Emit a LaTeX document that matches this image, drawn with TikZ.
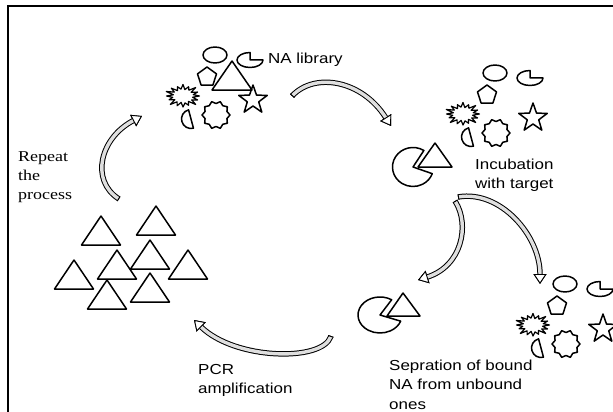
\documentclass[tikz,border=0pt]{standalone}
\usepackage{fontspec}
\usetikzlibrary{arrows.meta}
\newfontfamily\labelsans[FakeStretch=1.17]{Liberation Sans}
\newfontfamily\labelserif[FakeStretch=1.2]{Liberation Serif}
\tikzset{
outl/.style={draw=black, line width=1.5pt, line join=round},
ribbon/.style={
  draw=gray!25, line width=3.4pt,
  preaction={draw=black, line width=5.4pt},
  {Bar[width=5.4pt, line width=0.9pt, color=black]}-{Triangle[length=10pt, width=13pt, line width=0.9pt, color=black, fill=white]}
},
lbl/.style={font=\labelsans\fontsize{14.5}{19.3}\selectfont, align=left, inner sep=0pt, anchor=north west},
lblserif/.style={font=\labelserif\fontsize{15}{18.7}\selectfont, align=left, inner sep=0pt, anchor=north west},
pics/tri/.style={code={\draw[outl] (0,0) -- (-19.5,29) -- (19.5,29) -- cycle;}},
pics/nalib/.style={code={
  \draw[outl] (0,0) ellipse [x radius=12pt, y radius=8pt];
  \draw[outl] (35,5) -- ++(0,-7.5) arc[start angle=90, end angle=360, x radius=13pt, y radius=7.5pt] -- cycle;
  \begin{scope}[shift={(-8,22)}]
    \draw[outl] (90:10pt) -- (162:10pt) -- (234:10pt) -- (306:10pt) -- (18:10pt) -- cycle;
  \end{scope}
  \begin{scope}[shift={(38,45)}]
    \draw[outl] (90:15pt) -- (126:6pt) -- (162:15pt) -- (198:6pt) -- (234:15pt) -- (270:6pt)
      -- (306:15pt) -- (342:6pt) -- (18:15pt) -- (54:6pt) -- cycle;
  \end{scope}
  \begin{scope}[shift={(-32,41)}, xscale=1.5]
    \draw[outl, line width=1.2pt] (0:11pt) \foreach \a/\r in {11/7, 22/10.5, 34/6.5, 45/12, 56/7, 68/10, 79/6.5,
      90/11.5, 101/7, 112/10, 124/6.5, 135/11, 146/7, 158/12, 169/6.5, 180/11, 191/7, 202/10,
      214/6.5, 225/12, 236/7, 248/10.5, 259/6.5, 270/11, 281/7, 292/10, 304/6.5, 315/12,
      326/7, 338/10.5, 349/6.5} { -- (\a:\r pt)} -- cycle;
  \end{scope}
  \begin{scope}[shift={(1,60)}]
    \draw[outl] (0:14pt) \foreach \i in {1,...,19} { -- ({\i*18}:{mod(\i,2)==0 ? 14 : 11.5})} -- cycle;
  \end{scope}
  \begin{scope}[shift={(-24,64)}]
    \draw[outl] (105:9.5pt) arc[start angle=105, end angle=285, radius=9.5pt] -- cycle;
  \end{scope}
}},
}

\begin{document}
\begin{tikzpicture}[x=1pt, y=-1pt]
\clip (0,0) rectangle (613,412);
\draw[line width=2.2pt] (613,6.2) -- (7.6,6.2) -- (7.6,412);

% NA library
\pic at (215,55) {nalib};
\draw[outl] (232,61) -- (212,90) -- (252,90) -- cycle;
\node[lbl] (libtext) at (268,52.8) {NA library};

% incubation
\pic at (495,73) {nalib};
\draw[outl] (413,167) -- ++(58:20.5pt and 19.5pt) arc[start angle=58, end angle=340, x radius=20.5pt, y radius=19.5pt] -- cycle;
\draw[outl] (435,143) -- (418,167) -- (452,167) -- cycle;
\node[lbl] (inctext) at (475,158.8) {Incubation\\with target};

% unbound ones
\pic at (565,284) {nalib};

% bound ones
\draw[outl] (380,315) -- ++(58:22pt and 18pt) arc[start angle=58, end angle=340, x radius=22pt, y radius=18pt] -- cycle;
\draw[outl] (403,293) -- (387,316) -- (420,316) -- cycle;
\node[lbl] (septext) at (389,359.8) {Sepration of bound\\NA from unbound\\ones};

% amplified
\foreach \p in {(101,216), (156,206), (150,240), (117,250), (74,260), (188,250), (107,280), (150,273)}
  \pic at \p {tri};
\node[lbl] (pcrtext) at (198,363.8) {PCR\\amplification};
\node[lblserif] (reptext) at (18,151.7) {Repeat\\the\\process};

% arrows
\coordinate (libout) at (292,96);
\coordinate (incin) at (391,126);
\coordinate (incout) at (455,201);
\coordinate (incout2) at (458,197);
\coordinate (sepin) at (418,280);
\coordinate (unbin) at (540,284);
\coordinate (sepout) at (331,336);
\coordinate (pcrin) at (194,320);
\coordinate (pcrout) at (119,199);
\coordinate (libin) at (142,116);

\draw[ribbon] (libout) .. controls (315,72) and (362,80) .. (incin);
\draw[ribbon] (incout) .. controls (470,225) and (462,266) .. (sepin);
\draw[ribbon] (incout2) .. controls (500,190) and (540,235) .. (unbin);
\draw[ribbon] (sepout) .. controls (322,362) and (235,360) .. (pcrin);
\draw[ribbon] (pcrout) .. controls (90,180) and (100,138) .. (libin);
\end{tikzpicture}
\end{document}
